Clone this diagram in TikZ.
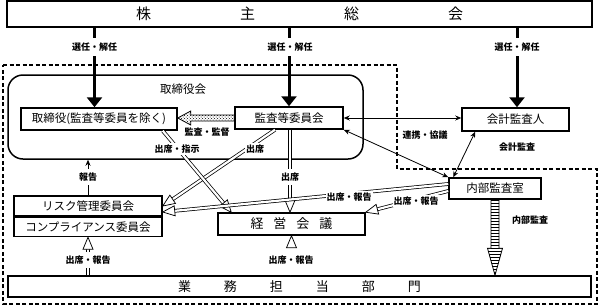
\documentclass[tikz,border=0pt]{standalone}
\usepackage{fontspec}
\setmainfont{Noto Sans CJK JP}
\usepackage{tikz}
\usetikzlibrary{arrows.meta, positioning, calc, patterns}

% hollow double-line arrow from #1 to #2
\newcommand{\hollowarr}[2]{%
  \draw[dbl, shorten >=11pt] (#1) -- (#2);
  \draw[htip] ($(#2)!12pt!(#1)$) coordinate (hb)
    ($(hb)!5pt!90:(#2)$) -- (#2) -- ($(hb)!5pt!-90:(#2)$) -- cycle;
}

\begin{document}
\begin{tikzpicture}[
  x=1pt, y=-1pt,
  font=\fontsize{11.5}{14}\selectfont,
  box/.style={draw, line width=1.5pt, inner sep=0pt},
  lbl/.style={font=\bfseries\fontsize{9}{11}\selectfont, fill=white,
              inner xsep=1pt, inner ysep=2pt},
  sel/.style={lbl, inner ysep=5pt},
  bigarr/.style={line width=3pt, -{Triangle[length=10pt,width=15pt]}},
  twoway/.style={line width=0.8pt,
                 {Stealth[length=6pt,width=5pt]}-{Stealth[length=6pt,width=5pt]}},
  onearr/.style={line width=0.8pt, -{Stealth[length=6pt,width=5pt]}},
  dbl/.style={double, double distance=2.2pt, line width=0.75pt},
  htip/.style={line width=0.75pt, fill=white, line join=miter},
  blockarr/.style={draw, line width=0.8pt, line join=miter}
]
\useasboundingbox (0,0) rectangle (600,306);

% company border
\draw[line width=1.4pt, dash pattern=on 4pt off 2.5pt]
  (3,65) -- (397,65) -- (397,169) -- (597,169) -- (597,304) -- (3,304) -- cycle;

% shareholders
\node[box, minimum width=585pt, minimum height=26pt,
      font=\fontsize{15}{18}\selectfont] (SH) at (299.5,14)
  {株\hspace{89pt}主\hspace{89pt}総\hspace{89pt}会};

% board
\node[draw, line width=1.5pt, rounded corners=15pt, minimum width=355pt,
      minimum height=84pt] (BD) at (185.5,117) {};
\node (BDT) at (183,89) {取締役会};
\node[box, minimum width=156pt, minimum height=22pt] (DIR) at (99,119)
  {取締役(監査等委員を除く)};
\node[box, minimum width=108pt, minimum height=22pt] (AUD) at (289,118)
  {監査等委員会};

% auditors
\node[box, minimum width=107pt, minimum height=23pt] (ACC) at (515.5,119.5)
  {会計監査人};
\node[box, minimum width=92pt, minimum height=21pt] (IAO) at (495,188.5)
  {内部監査室};

% committees
\node[box, minimum width=148pt, minimum height=20pt] (RISK) at (88,206)
  {リスク管理委員会};
\node[box, minimum width=148pt, minimum height=19pt, below=0pt of RISK] (COMP)
  {コンプライアンス委員会};
\node[box, minimum width=147pt, minimum height=22pt,
      font=\fontsize{13}{16}\selectfont] (MGT) at (291.5,224)
  {経\hspace{10pt}営\hspace{10pt}会\hspace{10pt}議};
\node[box, minimum width=583pt, minimum height=21pt,
      font=\fontsize{13}{16}\selectfont] (OPS) at (299.5,286.5)
  {業\hspace{33pt}務\hspace{33pt}担\hspace{33pt}当\hspace{33pt}部\hspace{33pt}門};

% election
\draw[bigarr] (SH.south -| 94.5,0) -- (94.5,0 |- DIR.north);
\draw[bigarr] (SH.south -| AUD.north) -- (AUD.north);
\draw[bigarr] (SH.south -| 517,0) -- (517,0 |- ACC.north);

% block arrows
\coordinate (supt) at (DIR.east |- AUD.west);
\draw[blockarr, pattern=crosshatch dots] (supt) -- ++(13,-7) -- ++(0,4)
  -- ($(AUD.west)+(0,-3)$) -- ($(AUD.west)+(0,3)$) -- ($(supt)+(13,3)$)
  -- ++(0,4) -- cycle;
\coordinate (iat) at (IAO.south |- OPS.north);
\draw[blockarr, pattern=horizontal lines] ($(IAO.south)+(-4,0)$)
  -- ($(iat)+(-4,-27)$) -- ($(iat)+(-7.5,-27)$) -- (iat)
  -- ($(iat)+(7.5,-27)$) -- ($(iat)+(4,-27)$) -- ($(IAO.south)+(4,0)$);

% thin arrows
\draw[twoway] (AUD.east) -- (AUD.east -| ACC.west);
\draw[twoway] (AUD.south east) -- (IAO.north west);
\coordinate (accb) at ($(ACC.south west)+(14,0)$);
\coordinate (iaot) at ($(IAO.north west)+(5,0)$);
\draw[twoway] (accb) -- (iaot);
\draw[onearr] (RISK.north) -- (RISK.north |- BD.south);

% attendance arrows
\coordinate (a1) at ($(AUD.south)+(-14,0)$);
\hollowarr{a1}{RISK.east}
\coordinate (d1) at ($(DIR.south east)+(-15,0)$);
\coordinate (m1) at ($(MGT.north west)+(14,0)$);
\hollowarr{d1}{m1}
\coordinate (a2) at (AUD.south -| 290,0);
\coordinate (m2) at (MGT.north -| 290,0);
\hollowarr{a2}{m2}
\coordinate (i1) at ($(IAO.west)+(0,-4.5)$);
\coordinate (r1) at ($(RISK.east)+(0,6)$);
\hollowarr{i1}{r1}
\coordinate (i2) at ($(IAO.west)+(0,2.5)$);
\hollowarr{i2}{MGT.north east}
\coordinate (o1) at (OPS.north -| COMP.south);
\hollowarr{o1}{COMP.south}
\coordinate (o2) at (OPS.north -| MGT.south);
\hollowarr{o2}{MGT.south}

% labels
\node[sel] at (94.5,47) {選任・解任};
\node[sel] at (290,47) {選任・解任};
\node[sel] at (517,47) {選任・解任};
\node[lbl] at (207,132) {監査・監督};
\node[lbl] at (177,149) {出席・指示};
\node[lbl] at (255,149) {出席};
\node[lbl, inner ysep=4pt] at (290,177) {出席};
\node[lbl] at (425,135) {連携・協議};
\node[lbl] at (517,147) {会計監査};
\node[lbl, inner ysep=4pt] at (88,177) {報告};
\node[lbl, inner ysep=4pt] at (88,260) {出席・報告};
\node[lbl, inner ysep=4pt] at (291,260) {出席・報告};
\node[lbl] at (349,197) {出席・報告};
\node[lbl] at (416,201) {出席・報告};
\node[lbl] at (530,220) {内部監査};

\end{tikzpicture}
\end{document}
